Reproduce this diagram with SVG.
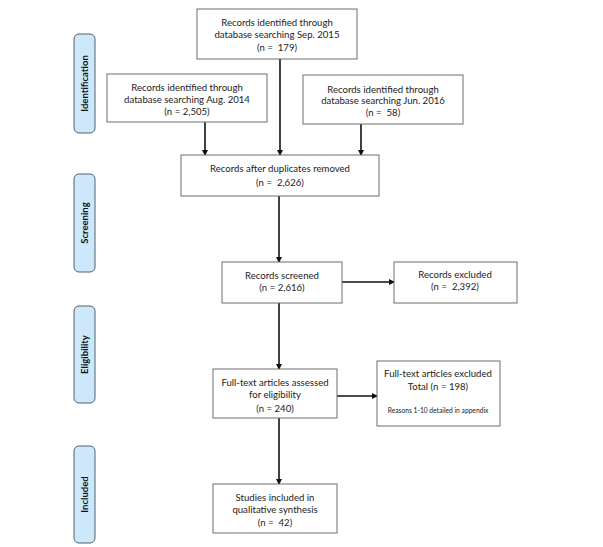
<svg xmlns="http://www.w3.org/2000/svg" width="603" height="547" viewBox="0 0 603 547">
<style>
.box{fill:#fff;stroke:#6d6d6d;stroke-width:1}
.lab{fill:#cde8fa;stroke:#55616b;stroke-width:1}
.t{font-family:Lato,"Open Sans","Liberation Sans",sans-serif;font-size:9.6px;fill:#222;text-anchor:middle;white-space:pre}
.s{font-size:6.7px}
.v{font-family:Lato,"Open Sans","Liberation Sans",sans-serif;font-size:9.5px;font-weight:bold;fill:#111;text-anchor:middle}
.c{stroke:#111;stroke-width:1.6;fill:none;marker-end:url(#ah)}
</style>
<defs>
<marker id="ah" markerWidth="6" markerHeight="6" refX="5" refY="3" orient="auto" markerUnits="userSpaceOnUse">
<path d="M0,0 L6,3 L0,6 Z" fill="#111"/>
</marker>
</defs>
<rect width="603" height="547" fill="#fff"/>
<g id="stage-identification">
<rect class="lab" x="74" y="34" width="21" height="99" rx="5"/>
<text class="v" transform="translate(88,83.5) rotate(-90)">Identification</text>
</g>
<g id="stage-screening">
<rect class="lab" x="74" y="174" width="21" height="98" rx="5"/>
<text class="v" transform="translate(88,223) rotate(-90)">Screening</text>
</g>
<g id="stage-eligibility">
<rect class="lab" x="74" y="306" width="21" height="97" rx="5"/>
<text class="v" transform="translate(88,354.5) rotate(-90)">Eligibility</text>
</g>
<g id="stage-included">
<rect class="lab" x="74" y="446" width="21" height="97" rx="5"/>
<text class="v" transform="translate(88,494.5) rotate(-90)">Included</text>
</g>
<g id="connectors">
<line class="c" x1="205" y1="122" x2="205" y2="155"/>
<line class="c" x1="280" y1="59" x2="280" y2="155"/>
<line class="c" x1="361" y1="124" x2="361" y2="155"/>
<line class="c" x1="279" y1="196" x2="279" y2="262"/>
<line class="c" x1="342" y1="282" x2="394" y2="282"/>
<line class="c" x1="279" y1="303" x2="279" y2="369"/>
<line class="c" x1="337" y1="396" x2="377" y2="396"/>
<line class="c" x1="279" y1="418" x2="279" y2="484"/>
</g>
<g id="n-sep2015">
<rect class="box" x="197" y="9" width="160" height="50"/>
<text class="t" x="277" y="26">Records identified through</text>
<text class="t" x="277" y="38">database searching Sep. 2015</text>
<text class="t" x="277" y="51">(n =  179)</text>
</g>
<g id="n-aug2014">
<rect class="box" x="107" y="74" width="160" height="48"/>
<text class="t" x="187" y="91">Records identified through</text>
<text class="t" x="187" y="103">database searching Aug. 2014</text>
<text class="t" x="187" y="115">(n = 2,505)</text>
</g>
<g id="n-jun2016">
<rect class="box" x="303" y="75" width="160" height="49"/>
<text class="t" x="383" y="93">Records identified through</text>
<text class="t" x="383" y="104">database searching Jun. 2016</text>
<text class="t" x="383" y="116">(n =  58)</text>
</g>
<g id="n-dups">
<rect class="box" x="181" y="155" width="198" height="41"/>
<text class="t" x="280" y="172">Records after duplicates removed</text>
<text class="t" x="280" y="186">(n =  2,626)</text>
</g>
<g id="n-screened">
<rect class="box" x="222" y="262" width="120" height="41"/>
<text class="t" x="282" y="279">Records screened</text>
<text class="t" x="282" y="291">(n = 2,616)</text>
</g>
<g id="n-excluded">
<rect class="box" x="394" y="262" width="123" height="41"/>
<text class="t" x="455" y="278">Records excluded</text>
<text class="t" x="455" y="290">(n =  2,392)</text>
</g>
<g id="n-fulltext">
<rect class="box" x="213" y="369" width="124" height="49"/>
<text class="t" x="275" y="386">Full-text articles assessed</text>
<text class="t" x="275" y="398">for eligibility</text>
<text class="t" x="275" y="412">(n = 240)</text>
</g>
<g id="n-ft-excluded">
<rect class="box" x="377" y="361" width="123" height="65"/>
<text class="t" x="438" y="377">Full-text articles excluded</text>
<text class="t" x="438" y="390">Total (n = 198)</text>
<text class="t s" x="438" y="413">Reasons 1-10 detailed in appendix</text>
</g>
<g id="n-included">
<rect class="box" x="213" y="484" width="124" height="49"/>
<text class="t" x="275" y="501">Studies included in</text>
<text class="t" x="275" y="513">qualitative synthesis</text>
<text class="t" x="275" y="526">(n =  42)</text>
</g>
</svg>
